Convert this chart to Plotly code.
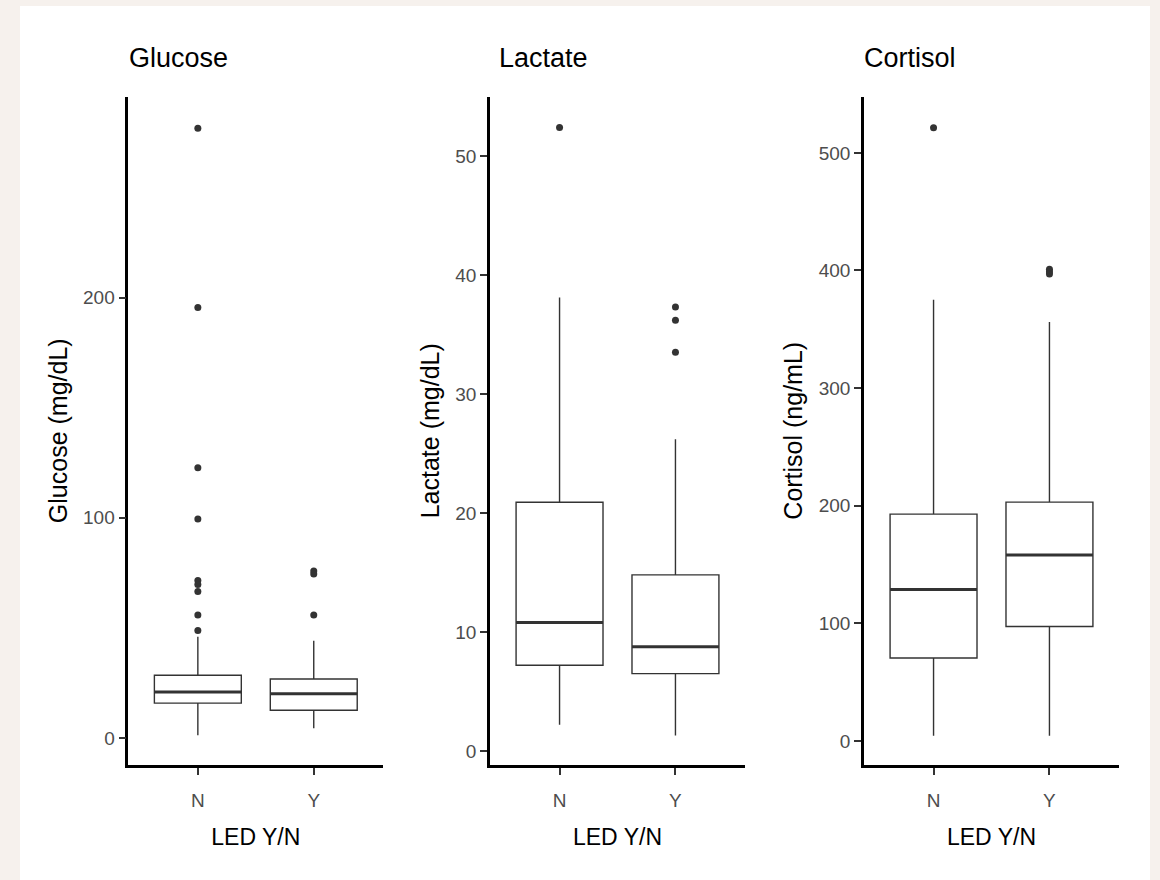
import plotly.graph_objects as go

# Canvas size in pixels
W, H = 1160, 880

# ---- data -------------------------------------------------------------
groups = ["N", "Y"]

glucose_q1 = [15.8, 12.6]
glucose_median = [20.9, 20.1]
glucose_q3 = [28.5, 26.8]
glucose_low = [1.2, 4.4]
glucose_high = [46.0, 44.2]
glucose_out_n = [277.0, 195.5, 122.7, 99.5, 71.5, 69.7, 66.5, 55.9, 48.8]
glucose_out_y = [75.8, 74.5, 55.9]

lactate_q1 = [7.2, 6.5]
lactate_median = [10.8, 8.75]
lactate_q3 = [20.9, 14.8]
lactate_low = [2.2, 1.3]
lactate_high = [38.1, 26.2]
lactate_out_n = [52.4]
lactate_out_y = [37.3, 36.2, 33.5]

cortisol_q1 = [70.5, 97.4]
cortisol_median = [128.7, 158.2]
cortisol_q3 = [192.9, 203.1]
cortisol_low = [4.5, 4.5]
cortisol_high = [375.2, 356.2]
cortisol_out_n = [521.3]
cortisol_out_y = [401.0, 399.0, 397.0]

panel_titles = ["Glucose", "Lactate", "Cortisol"]
y_titles = ["Glucose (mg/dL)", "Lactate (mg/dL)", "Cortisol (ng/mL)"]
x_title = "LED Y/N"

glucose_ticks = [0, 100, 200]
lactate_ticks = [0, 10, 20, 30, 40, 50]
cortisol_ticks = [0, 100, 200, 300, 400, 500]

# ---- layout helpers ---------------------------------------------------
def fx(p):
    return p / W


def fy(p):
    return 1 - p / H


panel_left = [128.3, 490.0, 864.0]
title_left = [127.0, 497.0, 862.0]
panel_width = 255.0
panel_top, panel_bottom = 96.5, 765.0
y_ranges = [[-12.3, 291.4], [-1.18, 55.0], [-20.4, 547.9]]

panels = [
    (glucose_q1, glucose_median, glucose_q3, glucose_low, glucose_high,
     glucose_out_n, glucose_out_y, glucose_ticks),
    (lactate_q1, lactate_median, lactate_q3, lactate_low, lactate_high,
     lactate_out_n, lactate_out_y, lactate_ticks),
    (cortisol_q1, cortisol_median, cortisol_q3, cortisol_low, cortisol_high,
     cortisol_out_n, cortisol_out_y, cortisol_ticks),
]

FONT = "Liberation Sans, Arial, sans-serif"
INK = "#333333"
BOX_W = 0.75
pos = list(range(len(groups)))

fig = go.Figure()
layout = {}
annotations = []

for i, (q1, med, q3, lo, hi, out_n, out_y, ticks) in enumerate(panels):
    suffix = "" if i == 0 else str(i + 1)
    xa, ya = "x" + suffix, "y" + suffix

    fig.add_trace(go.Box(
        x=pos, q1=q1, median=med, q3=q3, lowerfence=lo, upperfence=hi,
        width=BOX_W, whiskerwidth=0, boxpoints=False,
        fillcolor="white", line=dict(color=INK, width=1.4),
        xaxis=xa, yaxis=ya, showlegend=False,
    ))

    # heavier median bar
    mx, my = [], []
    for p, m in zip(pos, med):
        mx += [p - BOX_W / 2, p + BOX_W / 2, None]
        my += [m, m, None]
    fig.add_trace(go.Scatter(
        x=mx, y=my, mode="lines", line=dict(color=INK, width=3),
        xaxis=xa, yaxis=ya, showlegend=False, hoverinfo="skip",
    ))

    # outliers
    fig.add_trace(go.Scatter(
        x=[pos[0]] * len(out_n) + [pos[1]] * len(out_y),
        y=out_n + out_y, mode="markers",
        marker=dict(color=INK, size=7),
        xaxis=xa, yaxis=ya, showlegend=False,
    ))

    left = panel_left[i]
    layout["xaxis" + suffix] = dict(
        domain=[fx(left), fx(left + panel_width)], anchor=ya,
        range=[-0.6, 1.6], tickvals=pos, ticktext=groups,
        showline=True, linecolor="black", linewidth=2.5,
        ticks="outside", ticklen=7, tickwidth=2, tickcolor=INK,
        ticklabelstandoff=9,
        showgrid=False, zeroline=False,
        tickfont=dict(family=FONT, size=19, color="#4d4d4d"),
        title=dict(text=x_title, font=dict(family=FONT, size=23, color="black"),
                   standoff=20),
    )
    layout["yaxis" + suffix] = dict(
        domain=[fy(panel_bottom), fy(panel_top)], anchor=xa,
        range=y_ranges[i], tickvals=ticks,
        showline=True, linecolor="black", linewidth=2.5,
        ticks="outside", ticklen=7, tickwidth=2, tickcolor=INK,
        showgrid=False, zeroline=False,
        tickfont=dict(family=FONT, size=19, color="#4d4d4d"),
        title=dict(text=y_titles[i], font=dict(family=FONT, size=25, color="black"),
                   standoff=9),
    )
    annotations.append(dict(
        text=panel_titles[i], xref="paper", yref="paper",
        x=fx(title_left[i]), y=fy(58), xanchor="left", yanchor="middle",
        showarrow=False, font=dict(family=FONT, size=27, color="black"),
    ))

fig.update_layout(
    width=W, height=H, margin=dict(l=0, r=0, t=0, b=0),
    paper_bgcolor="#f6f1ed", plot_bgcolor="rgba(0,0,0,0)",
    annotations=annotations,
    shapes=[dict(type="rect", xref="paper", yref="paper", layer="below",
                 x0=fx(20), x1=fx(1150), y0=0, y1=fy(6),
                 fillcolor="white", line=dict(width=0))],
    **layout,
)

fig.write_html("out.html")
